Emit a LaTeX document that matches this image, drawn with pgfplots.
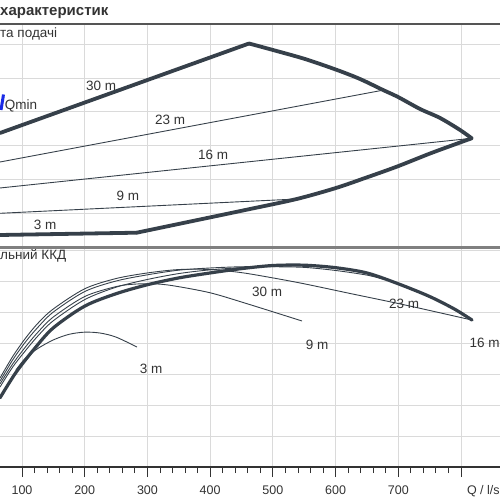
\documentclass[border=0pt]{standalone}
\usepackage{pgfplots}
\pgfplotsset{compat=1.18}
\usepackage{fontspec}
\setmainfont{Liberation Sans}
\definecolor{crv}{HTML}{36404A}
\definecolor{txt}{HTML}{333333}
\definecolor{grd}{HTML}{DADADA}
\definecolor{qblue}{HTML}{1A2BE6}
\definecolor{brd}{HTML}{555555}
\begin{document}
\begin{tikzpicture}[x=1pt,y=1pt,
  lbl/.style={font=\fontsize{13.5}{16}\selectfont, text=txt, inner sep=0pt}]
\pgfplotsset{
  panel/.style={
    anchor=south west, scale only axis, width=500pt,
    xmin=64.9, xmax=862.2,
    axis line style={draw=none},
    xtick={100,200,...,800},
    xmajorgrids, ymajorgrids,
    grid style={grd, line width=0.9pt},
    yticklabels={}, y tick style={draw=none},
    clip mode=individual,
    /pgf/number format/assume math mode=true,
  },
  thin/.style={crv, line width=0.9pt},
  thick/.style={crv, line width=3.8pt, line join=round, line cap=round},
}
% ---------------- top panel ----------------
\begin{axis}[panel, at={(0pt,253pt)}, height=223pt,
  ymin=0, ymax=65.98, ytick={10,20,...,60},
  xticklabels={}, x tick style={draw=none}]
\addplot[thick] coordinates {(64.9,33.73) (462.0,60.21)};
\addplot[thick, smooth] coordinates {
 (462.0,60.21) (500.3,58.28) (551.3,55.62) (602.3,52.37)
 (639.0,49.70) (675.7,46.45) (699.6,44.38) (734.7,40.83) (766.6,38.17)
 (798.5,34.62) (817.1,32.16)};
\addplot[thick, smooth] coordinates {
 (817.1,32.16) (798.5,30.92) (750.6,27.66) (697.5,23.76)
 (647.0,20.41) (599.1,17.37) (538.0,14.20) (463.6,11.24) (383.9,8.14)
 (282.9,4.23)};
\addplot[thick] coordinates {(282.9,4.23) (64.9,3.55)};
\addplot[thin] coordinates {(64.9,25.15) (675.7,46.40)};
\addplot[thin] coordinates {(64.9,17.46) (817.1,32.16)};
\addplot[thin] coordinates {(64.9,9.97) (538.0,14.20)};
\addplot[qblue, line width=3pt] coordinates {(66.5,40.53) (70.5,45.12)};
\node[lbl] at (axis cs:226.0,47.63) {30 m};
\node[lbl] at (axis cs:336.0,37.57) {23 m};
\node[lbl] at (axis cs:404.6,27.22) {16 m};
\node[lbl] at (axis cs:269.0,15.09) {9 m};
\node[lbl] at (axis cs:136.7,6.66) {3 m};
\node[lbl] at (axis cs:98.4,41.72) {Qmin};
\draw[brd, line width=1.3pt] (rel axis cs:0,1) -- (rel axis cs:1,1);
\draw[gray, line width=1.6pt] (rel axis cs:0,0) -- (rel axis cs:1,0);
\end{axis}
% ---------------- bottom panel ----------------
\begin{axis}[panel, at={(0pt,33pt)}, height=219pt,
  ymin=0, ymax=70.65, ytick={10,20,...,70},
  xticklabels={100,200,300,400,500,600,700,{}},
  minor x tick num=4, xtick pos=bottom, tick align=outside,
  major tick length=10pt, minor tick length=6pt,
  x tick style={draw=txt, line width=0.9pt},
  xticklabel style={font=\fontsize{12.5}{14}\selectfont, text=txt, anchor=base, yshift=-17pt}]
% envelope (thick)
\addplot[thick, smooth, line width=3.2pt] coordinates {
 (64.9,22.3) (90,30.4) (120,38.2) (150,44.9) (200,51.9) (250,55.9)
 (300,58.8) (350,61.0) (400,62.6) (450,64.0) (500,65.0) (550,65.1)
 (600,64.3) (650,62.6) (700,59.1) (750,55.0) (790,50.9) (817.6,47.4)};
% 16 m
\addplot[thin, smooth] coordinates {
 (64.9,28.7) (85,35.6) (105,41.4) (125,46.3) (150,51.0) (200,57.5)
 (250,60.8) (300,62.6) (350,63.7) (400,63.7) (450,62.7) (500,61.0)
 (550,59.1) (625,55.9) (710,52.3) (817.6,47.4)};
% 23 m
\addplot[thin, smooth] coordinates {
 (64.9,27.7) (85,34.5) (105,40.2) (125,45.0) (150,50.0) (200,56.6)
 (250,60.0) (300,62.0) (350,63.5) (400,64.2) (450,64.6) (500,64.6)
 (550,64.4) (600,63.4) (650,61.9) (677.3,60.5)};
% 9 m
\addplot[thin, smooth] coordinates {
 (64.9,26.8) (85,33.2) (105,38.6) (125,43.4) (150,48.4) (200,55.0)
 (250,58.2) (280,59.0) (310,59.1) (340,58.5) (400,56.2) (460,52.6)
 (546.5,47.1)};
% 30 m
\addplot[thin, smooth] coordinates {
 (64.9,25.8) (85,32.2) (105,37.4) (125,42.2) (150,47.2) (200,54.0)
 (250,58.0) (300,60.5) (350,62.4) (400,63.6) (463.6,64.5)};
% 3 m
\addplot[thin, smooth] coordinates {
 (90,31.2) (105,35.0) (125,38.2) (150,41.0) (175,42.8) (200,43.5)
 (225,43.2) (250,41.9) (283.4,38.7)};
\node[lbl] at (axis cs:490.7,56.45) {30 m};
\node[lbl] at (axis cs:709.2,52.58) {23 m};
\node[lbl] at (axis cs:570.4,39.35) {9 m};
\node[lbl] at (axis cs:305.7,31.61) {3 m};
\node[lbl, anchor=east] at (axis cs:862.0,40.0) {16 m};
\node[lbl, anchor=base east, font=\fontsize{12.5}{14}\selectfont] at (axis cs:862.0,0) [yshift=-27pt] {Q / l/s};
\draw[gray, line width=0.8pt] (rel axis cs:0,1) -- (rel axis cs:1,1);
\draw[txt, line width=1.1pt] (rel axis cs:0,0) -- (rel axis cs:1,0);
\end{axis}
% ---------------- titles ----------------
\node[anchor=base west, inner sep=0pt, text=txt, font=\fontsize{15}{18}\selectfont\bfseries] at (0pt,484pt) {характеристик};
\node[lbl, anchor=base west] at (0pt,462pt) {та подачі};
\node[lbl, anchor=base west] at (0pt,240pt) {льний ККД};
\pgfresetboundingbox
\useasboundingbox (0pt,0pt) rectangle (500pt,500pt);
\end{tikzpicture}
\end{document}
